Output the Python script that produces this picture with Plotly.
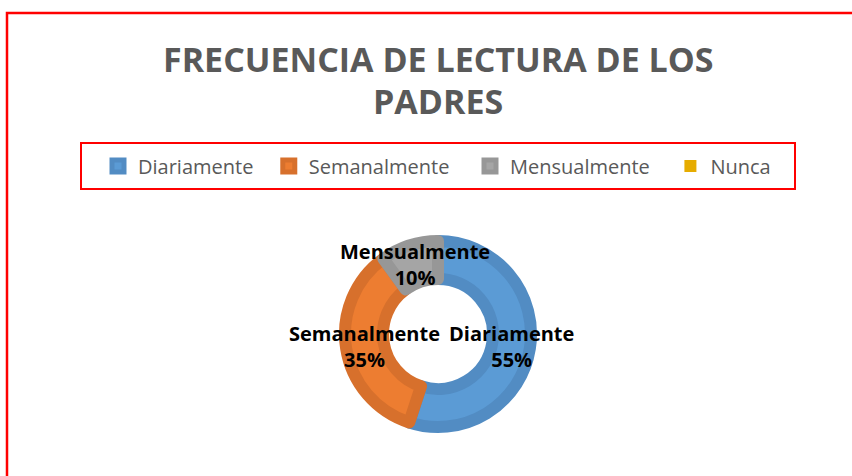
import math
import plotly.graph_objects as go

W, H = 852, 476

categories = ["Diariamente", "Semanalmente", "Mensualmente", "Nunca"]
values = [55, 35, 10, 0]
fill_colors = ["#5B9BD5", "#ED7D31", "#A5A5A5", "#E6AC00"]
band_colors = ["#528CC3", "#D7702C", "#979797", "#D09C00"]

title_lines = ["FRECUENCIA DE LECTURA DE LOS", "PADRES"]

# extra spacing after each legend entry (number of no-break spaces)
legend_spacing = {"Diariamente": 2, "Semanalmente": 3, "Mensualmente": 3, "Nunca": 0}


def px_x(x):
    return x / W


def px_y(y):
    return 1 - y / H


cx, cy, r_out, r_in = 438, 334, 99, 49
band = 6
r_plot = r_out - band
r_hole = r_in + band

legend_labels = [c + "\u00a0" * legend_spacing[c] for c in categories]

fig = go.Figure()
fig.add_trace(go.Pie(
    labels=legend_labels,
    values=values,
    sort=False,
    direction="clockwise",
    rotation=0,
    hole=r_hole / r_plot,
    marker=dict(colors=fill_colors,
                line=dict(color=band_colors,
                          width=[band * 2 if v > 0 else 0 for v in values])),
    textinfo="none",
    domain=dict(x=[px_x(cx - r_plot), px_x(cx + r_plot)],
                y=[px_y(cy + r_plot), px_y(cy - r_plot)]),
    showlegend=True,
    hoverinfo="percent",
))

# data labels at the middle of each ring segment, derived from the values
annotations = []
total = sum(values)
r_lab = (r_out + r_in) / 2
cum = 0
for lab, v in zip(categories, values):
    if v > 0:
        mid = (cum + v / 2) / total * 2 * math.pi
        lx = cx + r_lab * math.sin(mid)
        ly = cy - r_lab * math.cos(mid)
        annotations.append(dict(
            text=f"{lab}<br>{round(v / total * 100)}%",
            x=px_x(lx), y=px_y(ly + 1), xref="paper", yref="paper",
            xanchor="center", yanchor="middle", showarrow=False,
            font=dict(family="Open Sans", size=20, color="#000000", weight="bold"),
        ))
    cum += v

# title (two lines)
for line, ty in zip(title_lines, [59, 101]):
    annotations.append(dict(
        text=line, x=px_x(438), y=px_y(ty), xref="paper", yref="paper",
        xanchor="center", yanchor="middle", showarrow=False,
        font=dict(family="Open Sans", size=34, color="#595959", weight="bold"),
    ))

fig.update_layout(
    width=W, height=H,
    margin=dict(l=0, r=0, t=0, b=0),
    paper_bgcolor="white",
    plot_bgcolor="white",
    legend=dict(orientation="h", x=px_x(98), xanchor="left",
                y=px_y(166), yanchor="middle",
                font=dict(family="Open Sans", size=20, color="#595959"),
                bgcolor="rgba(0,0,0,0)", itemclick=False),
    annotations=annotations,
    shapes=[
        dict(type="rect", xref="paper", yref="paper",
             x0=px_x(7), x1=1.02, y0=-0.02, y1=px_y(13),
             line=dict(color="#FF0000", width=2.5)),
        dict(type="rect", xref="paper", yref="paper",
             x0=px_x(81), x1=px_x(795), y0=px_y(189), y1=px_y(143),
             line=dict(color="#FF0000", width=2)),
    ],
)

fig.write_html("out.html", config={"displayModeBar": False},
               post_script="document.body.style.margin='0';")
